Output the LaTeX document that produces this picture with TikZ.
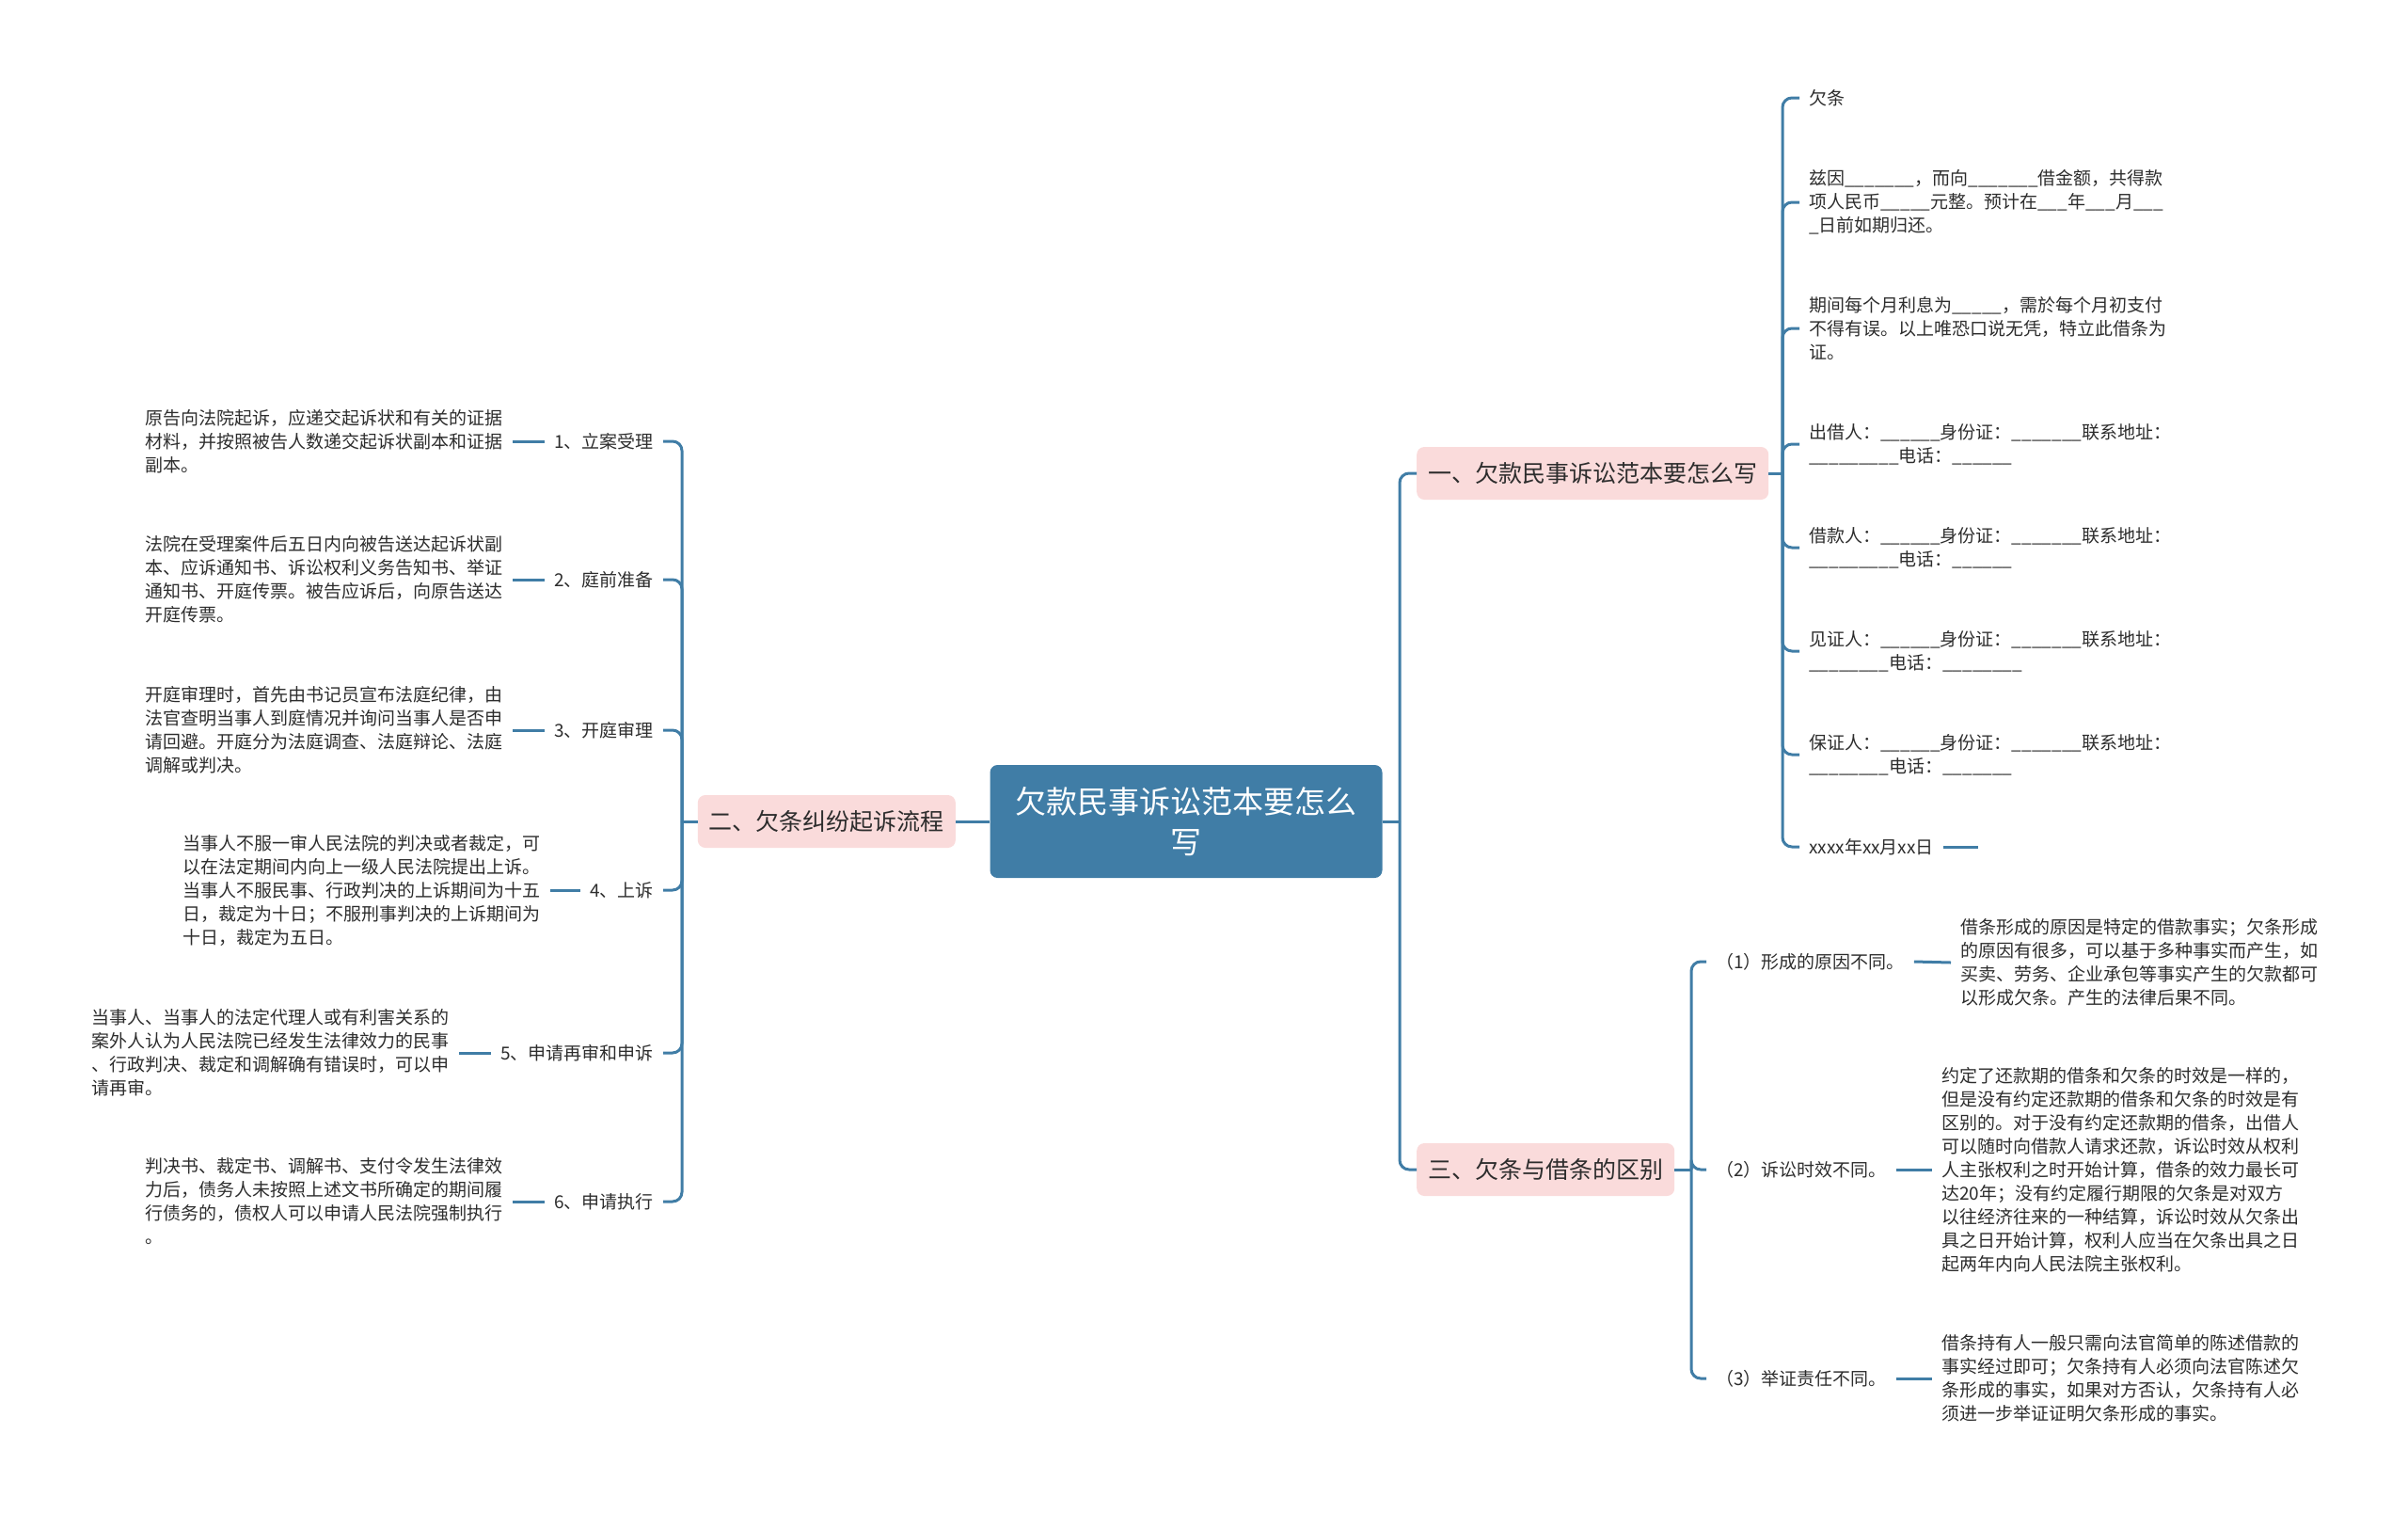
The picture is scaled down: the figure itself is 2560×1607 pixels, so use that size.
\documentclass[tikz,border=0pt]{standalone}
\usepackage{fontspec}
\setmainfont{Noto Sans CJK SC}
\definecolor{linec}{RGB}{64,125,166}
\definecolor{pinkc}{RGB}{250,219,219}
\definecolor{inkc}{RGB}{45,45,45}
\tikzset{
  hub/.style = {fill=linec, rounded corners=8pt, text=white, align=center, minimum width=417pt, minimum height=120pt, font=\fontsize{33}{43}\selectfont},
  sec/.style = {fill=pinkc, rounded corners=8pt, text=inkc, inner xsep=12pt, minimum height=56pt, font=\fontsize{25}{30}\selectfont},
  lbl/.style = {text=inkc, inner xsep=10pt, inner ysep=2pt, font=\fontsize{19}{25}\selectfont},
  txt/.style = {text=inkc, inner xsep=10pt, inner ysep=2pt, align=left, font=\fontsize{19}{25}\selectfont},
  con/.style = {draw=linec, line width=3pt, rounded corners=10pt}
}
\newcommand{\blanks}[1]{\foreach \k in {1,...,#1}{\_}}

\begin{document}
\begin{tikzpicture}[x=1pt, y=-1pt]
\useasboundingbox (0,0) rectangle (2560,1607);
% centre and sections
\node[hub] (root) at (1261,873) {欠款民事诉讼范本要怎么\\写};
\node[sec, anchor=west] (b1) at (1506,503) {一、欠款民事诉讼范本要怎么写};
\node[sec, anchor=east] (b2) at (1016,873) {二、欠条纠纷起诉流程};
\node[sec, anchor=west] (b3) at (1506,1243) {三、欠条与借条的区别};
\coordinate (jl) at (725,873);
\coordinate (jr) at (1488,873);
\coordinate (j1) at (1895,503);
\coordinate (j3) at (1798,1243);

% Section 1
\node[lbl, anchor=west] (q1) at (1913,104) {欠条};
\node[txt, anchor=west] (q2) at (1913,215) {兹因\blanks{7}，而向\blanks{7}借金额，共得款\\项人民币\blanks{5}元整。预计在\blanks{3}年\blanks{3}月\blanks{3}\\\_日前如期归还。};
\node[txt, anchor=west] (q3) at (1913,349) {期间每个月利息为\blanks{5}，需於每个月初支付\\不得有误。以上唯恐口说无凭，特立此借条为\\证。};
\node[txt, anchor=west] (q4) at (1913,472) {出借人：\blanks{6}身份证：\blanks{7}联系地址：\\\blanks{9}电话：\blanks{6}};
\node[txt, anchor=west] (q5) at (1913,582) {借款人：\blanks{6}身份证：\blanks{7}联系地址：\\\blanks{9}电话：\blanks{6}};
\node[txt, anchor=west] (q6) at (1913,692) {见证人：\blanks{6}身份证：\blanks{7}联系地址：\\\blanks{8}电话：\blanks{8}};
\node[txt, anchor=west] (q7) at (1913,802) {保证人：\blanks{6}身份证：\blanks{7}联系地址：\\\blanks{8}电话：\blanks{7}};
\node[lbl, anchor=west] (q8) at (1913,900) {xxxx年xx月xx日};
\coordinate (qend) at (2103,900);

% Section 2
\node[lbl, anchor=east] (s1) at (705,469) {1、立案受理};
\node[lbl, anchor=east] (s2) at (705,616) {2、庭前准备};
\node[lbl, anchor=east] (s3) at (705,776) {3、开庭审理};
\node[lbl, anchor=east] (s4) at (705,946) {4、上诉};
\node[lbl, anchor=east] (s5) at (705,1119) {5、申请再审和申诉};
\node[lbl, anchor=east] (s6) at (705,1277) {6、申请执行};
\node[txt, anchor=east] (t1) at (545,469) {原告向法院起诉，应递交起诉状和有关的证据\\材料，并按照被告人数递交起诉状副本和证据\\副本。};
\node[txt, anchor=east] (t2) at (545,616) {法院在受理案件后五日内向被告送达起诉状副\\本、应诉通知书、诉讼权利义务告知书、举证\\通知书、开庭传票。被告应诉后，向原告送达\\开庭传票。};
\node[txt, anchor=east] (t3) at (545,776) {开庭审理时，首先由书记员宣布法庭纪律，由\\法官查明当事人到庭情况并询问当事人是否申\\请回避。开庭分为法庭调查、法庭辩论、法庭\\调解或判决。};
\node[txt, anchor=east] (t4) at (585,946) {当事人不服一审人民法院的判决或者裁定，可\\以在法定期间内向上一级人民法院提出上诉。\\当事人不服民事、行政判决的上诉期间为十五\\日，裁定为十日；不服刑事判决的上诉期间为\\十日，裁定为五日。};
\node[txt, anchor=east] (t5) at (488,1119) {当事人、当事人的法定代理人或有利害关系的\\案外人认为人民法院已经发生法律效力的民事\\、行政判决、裁定和调解确有错误时，可以申\\请再审。};
\node[txt, anchor=east] (t6) at (545,1277) {判决书、裁定书、调解书、支付令发生法律效\\力后，债务人未按照上述文书所确定的期间履\\行债务的，债权人可以申请人民法院强制执行\\。};

% Section 3
\node[lbl, anchor=west] (d1) at (1814,1022) {（1）形成的原因不同。};
\node[lbl, anchor=west] (d2) at (1814,1243) {（2）诉讼时效不同。};
\node[lbl, anchor=west] (d3) at (1814,1465) {（3）举证责任不同。};
\node[txt, anchor=west] (e1) at (2074,1023) {借条形成的原因是特定的借款事实；欠条形成\\的原因有很多，可以基于多种事实而产生，如\\买卖、劳务、企业承包等事实产生的欠款都可\\以形成欠条。产生的法律后果不同。};
\node[txt, anchor=west] (e2) at (2054,1243) {约定了还款期的借条和欠条的时效是一样的，\\但是没有约定还款期的借条和欠条的时效是有\\区别的。对于没有约定还款期的借条，出借人\\可以随时向借款人请求还款，诉讼时效从权利\\人主张权利之时开始计算，借条的效力最长可\\达20年；没有约定履行期限的欠条是对双方\\以往经济往来的一种结算，诉讼时效从欠条出\\具之日开始计算，权利人应当在欠条出具之日\\起两年内向人民法院主张权利。};
\node[txt, anchor=west] (e3) at (2054,1465) {借条持有人一般只需向法官简单的陈述借款的\\事实经过即可；欠条持有人必须向法官陈述欠\\条形成的事实，如果对方否认，欠条持有人必\\须进一步举证证明欠条形成的事实。};

% connectors
\draw[con] (root.west) -- (b2.east);
\draw[con] (b2.west) -- (jl);
\draw[con] (root.east) -- (jr);
\draw[con] (jr) |- (b1.west);
\draw[con] (jr) |- (b3.west);
\draw[con] (b1.east) -- (j1);
\draw[con] (b3.east) -- (j3);
\foreach \i in {1,...,8}
  \draw[con] (j1) |- (q\i.west);
\draw[con] (q8.east) -- (qend);
\foreach \i in {1,...,6} {
  \draw[con] (jl) |- (s\i.east);
  \draw[con] (t\i.east) -- (s\i.west);
}
\foreach \i in {1,...,3} {
  \draw[con] (j3) |- (d\i.west);
  \draw[con] (d\i.east) -- (e\i.west);
}
\end{tikzpicture}
\end{document}
